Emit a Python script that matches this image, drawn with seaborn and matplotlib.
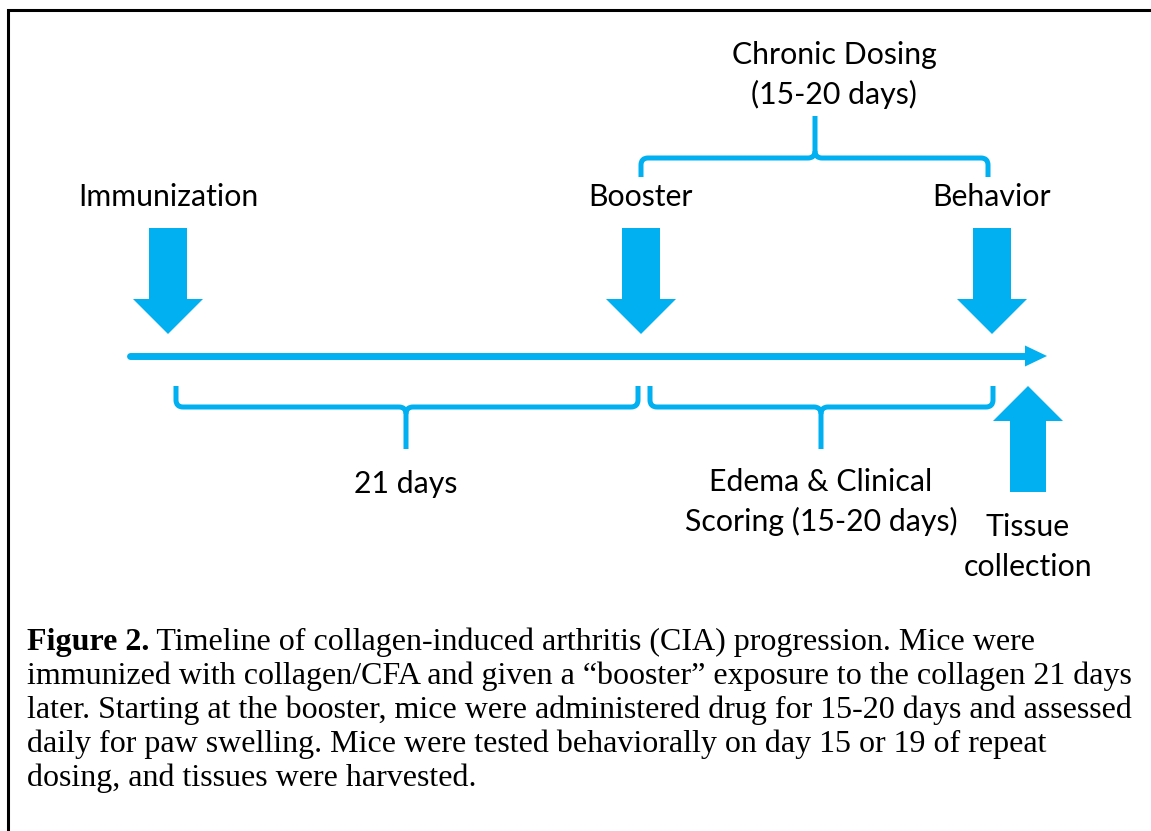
import matplotlib
matplotlib.use("Agg")
import matplotlib.pyplot as plt
from matplotlib.patches import Polygon, PathPatch
from matplotlib.path import Path
import seaborn as sns
import pandas as pd

sns.set_theme(style="white")
plt.rcParams['font.family'] = ['Lato', 'DejaVu Sans']

# ---- data (labels) ----
event_labels = ["Immunization", "Booster", "Behavior"]
top_span_label = ["Chronic Dosing", "(15-20 days)"]
bottom_span_labels = [["21 days"], ["Edema & Clinical", "Scoring (15-20 days)"]]
end_label = ["Tissue", "collection"]
caption_bold = "Figure 2."
caption_lines = [
    " Timeline of collagen-induced arthritis (CIA) progression. Mice were",
    "immunized with collagen/CFA and given a \u201cbooster\u201d exposure to the collagen 21 days",
    "later. Starting at the booster, mice were administered drug for 15-20 days and assessed",
    "daily for paw swelling. Mice were tested behaviorally on day 15 or 19 of repeat",
    "dosing, and tissues were harvested.",
]

BLUE = "#00B0F0"
LFS = 21.8
W, H = 1151, 831
fig = plt.figure(figsize=(W / 100, H / 100), dpi=100)
ax = fig.add_axes([0, 0, 1, 1])
ax.set_xlim(0, W)
ax.set_ylim(H, 0)
ax.axis("off")

# border (left + top)
ax.plot([8, 8, W + 5], [H + 5, 10, 10], color="black", lw=2.2, solid_joinstyle="miter")

# timeline
tl = pd.DataFrame({"x": [130, 1030], "y": [356, 356]})
sns.lineplot(data=tl, x="x", y="y", ax=ax, color=BLUE, lw=5.0, legend=False)
ax.add_patch(Polygon([(1025, 345.5), (1047, 356), (1025, 366.5)], closed=True,
                     color=BLUE, lw=0))

def down_arrow(cx, ytop, ybase, ytip, sw=19, hw=35):
    pts = [(cx - sw, ytop), (cx + sw, ytop), (cx + sw, ybase), (cx + hw, ybase),
           (cx, ytip), (cx - hw, ybase), (cx - sw, ybase)]
    ax.add_patch(Polygon(pts, closed=True, color=BLUE, lw=0))

def up_arrow(cx, ybot, ybase, ytip, sw=18, hw=35):
    pts = [(cx - sw, ybot), (cx + sw, ybot), (cx + sw, ybase), (cx + hw, ybase),
           (cx, ytip), (cx - hw, ybase), (cx - sw, ybase)]
    ax.add_patch(Polygon(pts, closed=True, color=BLUE, lw=0))

def lines(cx, ybase, texts, step=40):
    for i, s in enumerate(texts):
        ax.text(cx, ybase + i * step, s, ha="center", va="baseline",
                fontsize=LFS, color="black")

event_x = [168, 641, 992]
for cx, lab in zip(event_x, event_labels):
    down_arrow(cx, 228, 299, 334)
    lines(cx, 206, [lab])

up_arrow(1028, 492, 421, 386)
lines(1028, 536, end_label)

def brace(x0, x1, xm, yend, yh, ytip, r=7):
    s = 1 if ytip > yh else -1  # direction of tip
    verts = [(x0, yend), (x0, yh - s * r), (x0, yh), (x0 + r, yh),
             (xm - r, yh), (xm, yh), (xm, yh + s * r), (xm, ytip)]
    codes = [Path.MOVETO, Path.LINETO, Path.CURVE3, Path.CURVE3,
             Path.LINETO, Path.CURVE3, Path.CURVE3, Path.LINETO]
    verts2 = [(x1, yend), (x1, yh - s * r), (x1, yh), (x1 - r, yh),
              (xm + r, yh), (xm, yh), (xm, yh + s * r)]
    codes2 = [Path.MOVETO, Path.LINETO, Path.CURVE3, Path.CURVE3,
              Path.LINETO, Path.CURVE3, Path.CURVE3]
    for v, c in ((verts, codes), (verts2, codes2)):
        ax.add_patch(PathPatch(Path(v, c), fill=False, edgecolor=BLUE, lw=3.6,
                               capstyle="butt", joinstyle="round"))

# top brace
brace(641, 988, 815, 177, 158, 116)
lines(834, 64, top_span_label)

# bottom braces
brace(176, 638, 406, 386, 407, 449)
brace(650, 993, 821, 386, 407, 449)
lines(406, 493, bottom_span_labels[0])
lines(821, 491, bottom_span_labels[1])

# caption
serif = ['Liberation Serif', 'DejaVu Serif']
CFS = 23.0
y0 = 650
dy = 34
t = ax.text(27, y0, caption_bold, ha="left", va="baseline", fontsize=CFS,
            fontweight="bold", family=serif, color="black")
fig.canvas.draw()
bb = t.get_window_extent(renderer=fig.canvas.get_renderer())
xb = bb.x1
ax.text(xb, y0, caption_lines[0], ha="left", va="baseline", fontsize=CFS,
        family=serif, color="black")
for i, line in enumerate(caption_lines[1:], start=1):
    ax.text(27, y0 + i * dy, line, ha="left", va="baseline", fontsize=CFS,
            family=serif, color="black")

fig.savefig("out.png", dpi=100)
